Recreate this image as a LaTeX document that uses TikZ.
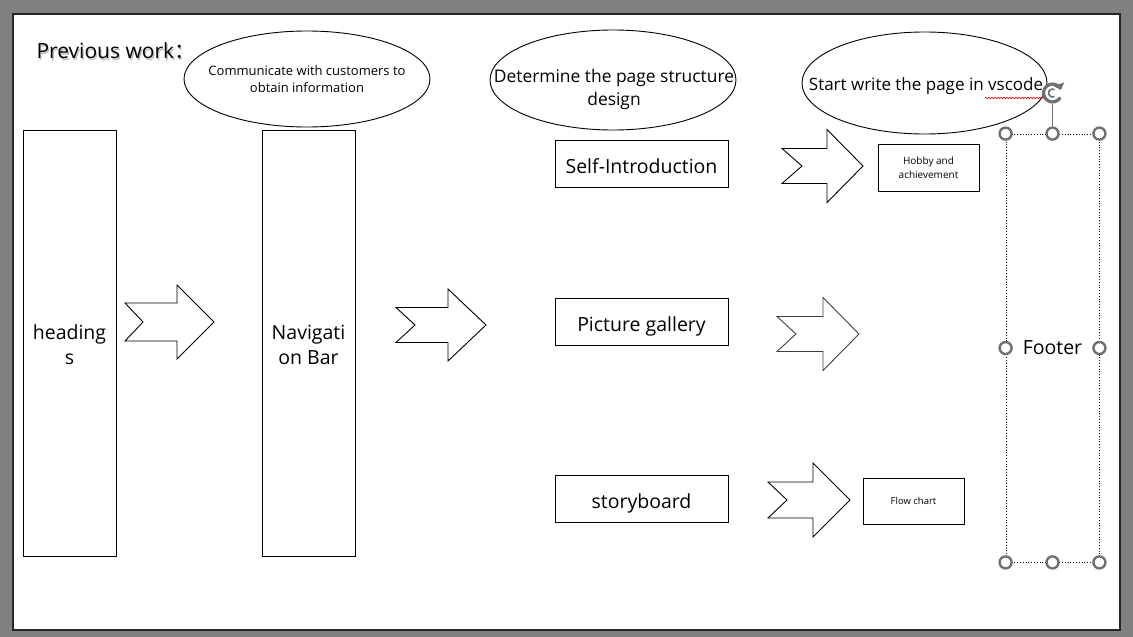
\documentclass[tikz,border=0pt]{standalone}
\usepackage{fontspec}
\setmainfont{Open Sans}
\newfontfamily\cjk{Noto Sans CJK SC}
\usetikzlibrary{shapes.geometric,arrows.meta,decorations.pathmorphing}
\definecolor{bggray}{HTML}{808080}
\definecolor{hgray}{HTML}{707070}
\newcommand{\notchedarrow}[7]{% left, notch, head start, tip, centre y, shaft half width, head half width
  \draw[arrowshape] (#1,#5-#6) -- (#3,#5-#6) -- (#3,#5-#7) -- (#4,#5) -- (#3,#5+#7) -- (#3,#5+#6) -- (#1,#5+#6) -- (#2,#5) -- cycle;}
\begin{document}
\begin{tikzpicture}[x=1pt,y=-1pt,
  box/.style={draw=black, line width=0.9pt, rectangle, inner sep=0pt, align=center},
  tall/.style={box, minimum width=93pt, minimum height=426pt},
  talltext/.style={align=center, inner sep=0pt, font=\fontsize{19.5}{25}\selectfont},
  label/.style={box, minimum width=173pt, minimum height=47pt, text height=23pt, text depth=4pt, font=\fontsize{19.5}{22}\selectfont},
  small/.style={box, minimum width=101pt, minimum height=47pt},
  ell/.style={draw=black, line width=0.9pt, ellipse, inner sep=0pt},
  arrowshape/.style={draw=black, line width=0.9pt, fill=white, line join=miter},
  handle/.style={circle, draw=hgray, line width=2.4pt, fill=white, minimum size=12pt, inner sep=0pt}]
\useasboundingbox (0,0) rectangle (1133,637);
\fill[bggray] (0,0) rectangle (1133,637);
\draw[fill=white, line width=1.5pt, draw=black!85] (13,14) rectangle (1120,630);

% title
\node[anchor=west, text=black!25, font=\fontsize{21}{24}\selectfont] at (34.2,52.2) {Previous work{\cjk ：}};
\node[anchor=west, font=\fontsize{21}{24}\selectfont] (title) at (33,51) {Previous work{\cjk ：}};

% ellipses
\node[ell, minimum width=246pt, minimum height=96pt] (e1) at (307,79) {};
\node[align=center, font=\fontsize{13}{17}\selectfont] (e1t) at (e1.center) {Communicate with customers to\\obtain information};
\node[ell, minimum width=246pt, minimum height=100pt] (e2) at (613,80) {};
\node[align=center, font=\fontsize{17.4}{23}\selectfont] (e2t) at (614,89) {Determine the page structure\\design};
\node[ell, minimum width=245pt, minimum height=102pt] (e3) at (924.5,83) {};
\node[font=\fontsize{17}{22}\selectfont] (e3t) at (926,86) {Start write the page in vscode};
\draw[red, line width=0.6pt, decorate, decoration={snake, amplitude=0.8pt, segment length=3pt}] (985,98) -- (1043,98);

% tall boxes
\node[tall] (head) at (69.5,343) {};
\node[talltext] (headt) at ([yshift=-2pt]head.center) {heading\\s};
\node[tall] (nav) at (308.5,343) {};
\node[talltext] (navt) at ([yshift=-2pt]nav.center) {Navigati\\on Bar};

% middle boxes
\node[label] (self) at (641.5,163.5) {Self-Introduction};
\node[label] (pic) at (641.5,321.5) {Picture gallery};
\node[label] (story) at (641.5,499) {storyboard};

% right small boxes
\node[small, font=\fontsize{10}{14}\selectfont] (hobby) at (928.5,168) {Hobby and\\achievement};
\node[small, minimum height=46pt, font=\fontsize{9.5}{12}\selectfont] (flow) at (913.5,501) {Flow chart};

% block arrows
\notchedarrow{125}{143}{177}{214}{322}{19}{37}
\notchedarrow{396}{415}{448}{486}{325}{17.5}{36}
\notchedarrow{782}{802}{827}{863}{166}{17.5}{36.5}
\begin{scope}[arrowshape/.append style={draw=black!75}]
\notchedarrow{777}{796}{823}{859}{334}{17.5}{36.5}
\end{scope}
\notchedarrow{768}{787}{813}{850}{500}{18}{37}

% footer (selected)
\node[draw=black, dotted, line width=0.8pt, minimum width=93pt, minimum height=428pt, inner sep=0pt, font=\fontsize{19.5}{22}\selectfont] (footer) at (1052.5,348) {Footer};
\coordinate (rot) at (1052.5,93);
\draw[hgray, line width=1.2pt] (footer.north) -- (1052.5,104);
\foreach \i/\p in {1/north west,2/north,3/north east,4/west,5/east,6/south west,7/south,8/south east}
  \node[handle] (h\i) at (footer.\p) {};
\begin{scope}[shift={(rot)}, yscale=-1]
  \fill[white] (0,0) circle[radius=9];
  \draw[hgray, line width=3.2pt, -{Triangle[length=6pt,width=11pt]}] (-30:9) arc[start angle=-30, end angle=-340, radius=9];
  \draw[hgray, line width=1.6pt] (60:4) arc[start angle=60, end angle=300, radius=4];
\end{scope}
\end{tikzpicture}
\end{document}
